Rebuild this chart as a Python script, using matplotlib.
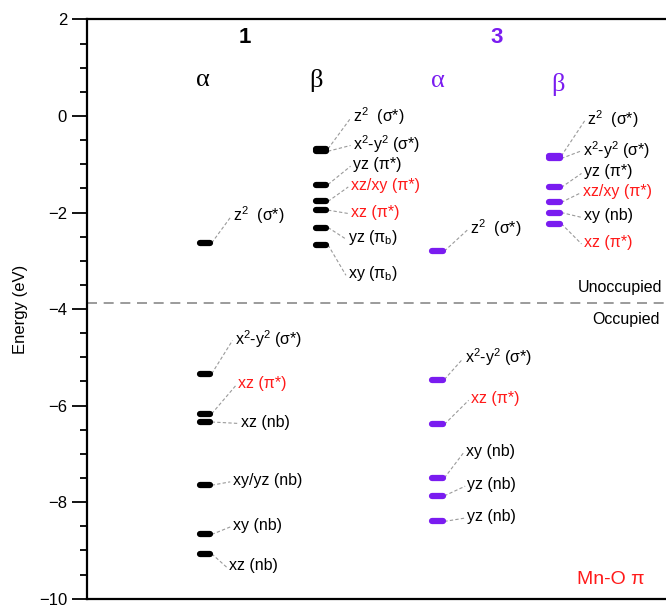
import matplotlib
matplotlib.use("Agg")
import matplotlib.pyplot as plt
from matplotlib.ticker import MultipleLocator

plt.rcParams['font.family'] = ['Liberation Sans', 'DejaVu Sans']
plt.rcParams['mathtext.fontset'] = 'custom'
plt.rcParams['mathtext.rm'] = 'Liberation Sans'

PURPLE = '#7a1cf0'
RED = '#ff1a1a'

# ---------------- data ----------------
Z2 = r"z$^{\mathregular{2}}$  (σ*)"
X2Y2 = r"x$^{\mathregular{2}}$-y$^{\mathregular{2}}$ (σ*)"

# complex 1, alpha spin
levels_1a = [-2.63, -5.34, -6.17, -6.34, -7.65, -8.67, -9.07]
labels_1a = [Z2, X2Y2, "xz (π*)", "xz (nb)", "xy/yz (nb)", "xy (nb)", "xz (nb)"]
red_1a = [False, False, True, False, False, False, False]

# complex 1, beta spin
levels_1b = [-0.68, -0.73, -1.42, -1.77, -1.95, -2.31, -2.67]
labels_1b = [Z2, X2Y2, "yz (π*)", "xz/xy (π*)", "xz (π*)",
             r"yz (π$_{\mathregular{b}}$)", r"xy (π$_{\mathregular{b}}$)"]
red_1b = [False, False, False, True, True, False, False]

# complex 3, alpha spin
levels_3a = [-2.80, -5.46, -6.39, -7.50, -7.87, -8.40]
labels_3a = [Z2, X2Y2, "xz (π*)", "xy (nb)", "yz (nb)", "yz (nb)"]
red_3a = [False, False, True, False, False, False]

# complex 3, beta spin
levels_3b = [-0.83, -0.88, -1.48, -1.79, -2.00, -2.23]
labels_3b = [Z2, X2Y2, "yz (π*)", "xz/xy (π*)", "xy (nb)", "xz (π*)"]
red_3b = [False, False, False, True, False, True]

fermi_level = -3.88

# ---------------- layout (label positions) ----------------
pos_1a = [(2.52, -2.06), (2.55, -4.62), (2.61, -5.55), (2.66, -6.34),
          (2.51, -7.55), (2.52, -8.48), (2.45, -9.32)]
pos_1b = [(4.60, 0.00), (4.59, -0.58), (4.59, -1.01), (4.55, -1.44),
          (4.55, -1.99), (4.51, -2.52), (4.51, -3.27)]
pos_3a = [(6.61, -2.33), (6.53, -5.00), (6.63, -5.86), (6.54, -6.95),
          (6.57, -7.64), (6.57, -8.30)]
pos_3b = [(8.64, -0.06), (8.56, -0.70), (8.58, -1.16), (8.57, -1.56),
          (8.58, -2.07), (8.58, -2.62)]

columns = [
    (2.03, levels_1a, labels_1a, red_1a, pos_1a, 'black'),
    (4.04, levels_1b, labels_1b, red_1b, pos_1b, 'black'),
    (6.05, levels_3a, labels_3a, red_3a, pos_3a, PURPLE),
    (8.07, levels_3b, labels_3b, red_3b, pos_3b, PURPLE),
]
HW = 0.09

fig = plt.figure(figsize=(6.66, 6.09), dpi=100)
ax = fig.add_axes([0.131, 0.017, 0.869, 0.951])
ax.set_xlim(0, 10)
ax.set_ylim(-10, 2)

for xc, levs, labs, reds, poss, col in columns:
    for e, lab, r, (tx, ty) in zip(levs, labs, reds, poss):
        ax.plot([xc - HW, xc + HW], [e, e], color=col, lw=4.5,
                solid_capstyle='round', zorder=3)
        ax.plot([xc + HW + 0.03, tx - 0.04], [e, ty - 0.03], color='#9a9a9a',
                lw=0.8, ls=(0, (3, 2)), zorder=2)
        ax.text(tx, ty, lab, color=RED if r else 'black', fontsize=11.5,
                ha='left', va='center')

ax.axhline(fermi_level, color='#8a8a8a', lw=1.2, ls=(0, (6, 4)), zorder=1)

# headers
ax.text(2.72, 1.63, "1", fontsize=16, fontweight='bold', ha='center', va='center')
ax.text(7.07, 1.63, "3", fontsize=16, fontweight='bold', color=PURPLE,
        ha='center', va='center')
for x, y, s, c in [(2.00, 0.74, "α", 'black'), (3.95, 0.74, "β", 'black'),
                   (6.05, 0.72, "α", PURPLE), (8.14, 0.66, "β", PURPLE)]:
    ax.text(x, y, s, fontsize=19, color=c, ha='center', va='center',
            family=['Liberation Serif', 'DejaVu Serif'])

ax.text(9.93, -3.56, "Unoccupied", fontsize=11.5, ha='right', va='center')
ax.text(9.90, -4.21, "Occupied", fontsize=11.5, ha='right', va='center')
ax.text(8.47, -9.61, "Mn-O π", fontsize=14, color=RED, ha='left', va='center')

ax.set_ylabel("Energy (eV)", fontsize=12, labelpad=8)
ax.yaxis.set_major_locator(MultipleLocator(2))
ax.yaxis.set_minor_locator(MultipleLocator(0.5))
ax.tick_params(axis='y', which='major', length=11, width=1.3, labelsize=12, direction='out')
ax.tick_params(axis='y', which='minor', length=5, width=1.3, direction='out')
ax.set_xticks([])
for s in ['left', 'top', 'bottom']:
    ax.spines[s].set_linewidth(1.6)
ax.spines['right'].set_visible(False)

fig.savefig("out.png", dpi=100)
